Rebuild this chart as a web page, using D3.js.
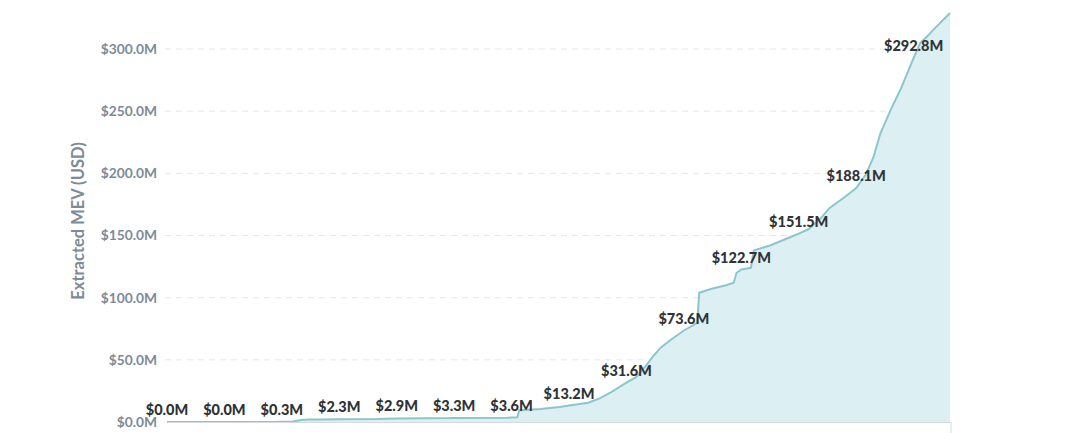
<!DOCTYPE html>
<html><head><meta charset="utf-8">
<script src="https://cdn.jsdelivr.net/npm/d3@7/dist/d3.min.js"></script>
<style>
html,body{margin:0;padding:0;background:#fff;}
svg{display:block;font-family:Lato,"Open Sans",sans-serif;}
</style></head>
<body><svg id="c" width="1087" height="433"></svg>
<script>
// days since start of series
const days = [0,30,55,60,66,70,74,80,90,110,120,148,150,178,180,183,184,195,205,210,220,226,232,240,245,250,254,258,263,270,275,277,278,284,292,296,297.5,300,305,306.5,315,326,330,335,341,346,354,360,365,369,372.6,378,383,386,390,393.5,397,400,409];
// cumulative extracted MEV, millions USD
const mev = [0,0,0.05,0.3,0.4,1.6,2.0,2.1,2.3,2.4,2.9,3.2,3.3,3.5,3.6,3.8,9.5,10.5,12.0,13.2,15.5,19,24,31.6,36,45,53,60,66,73.6,78,80,104,107,110,112,120,122.7,124,138,142,149,151.5,155,163,172,181,188.1,199,213,232,251,267,278,292.8,305,310,315,329];
// annotated points (day, value)
const labelDays = [0,30,60,90,120,150,180,210,240,270,300,330,360,390];
const labelVals = [0,0,0.3,2.3,2.9,3.3,3.6,13.2,31.6,73.6,122.7,151.5,188.1,292.8];
const yTicks = [0,50,100,150,200,250,300];
const xTickDays = [31,111,188,265,344];
const xTickLabels = ["Feb 1 2020","Apr 21 2020","Jul 7 2020","Sep 22 2020","Dec 10 2020"];

const svg = d3.select("#c");
const x = d3.scaleLinear().domain([0,409]).range([167,950]);
const y = d3.scaleLinear().domain([0,300]).range([422,49]);
const fmt = v => "$" + v.toFixed(1) + "M";
const data = days.map((d,i)=>({d, v: mev[i]}));

// grid
svg.append("g").selectAll("line").data(yTicks.filter(t=>t>0)).join("line")
  .attr("x1",165).attr("x2",950).attr("y1",d=>y(d)).attr("y2",d=>y(d))
  .attr("stroke","#e4e7ea").attr("stroke-width",1).attr("stroke-dasharray","6,5");

// area
svg.append("path").datum(data)
  .attr("d", d3.area().x(p=>x(p.d)).y0(y(0)).y1(p=>y(p.v)))
  .attr("fill","#dceff2");
svg.append("path").datum(data)
  .attr("d", d3.line().x(p=>x(p.d)).y(p=>y(p.v)))
  .attr("fill","none").attr("stroke","#8cc6cc").attr("stroke-width",2);

// x axis
const xa = svg.append("g").attr("transform",`translate(0,${y(0)})`)
  .call(d3.axisBottom(x).tickValues(xTickDays).tickFormat((d,i)=>xTickLabels[i]).tickSize(0).tickPadding(12));
xa.select(".domain").attr("stroke","#d6dadd");
xa.selectAll("text").attr("fill","#7d8b98").attr("font-size",14).attr("font-weight",700).attr("font-family","Lato");
svg.append("line").attr("x1",x(409)+1).attr("x2",x(409)+1).attr("y1",y(0)).attr("y2",y(0)+12).attr("stroke","#d6dadd");

// y axis
const ya = svg.append("g").attr("transform","translate(157,0)")
  .call(d3.axisLeft(y).tickValues(yTicks).tickFormat(fmt).tickSize(0).tickPadding(0));
ya.select(".domain").remove();
ya.selectAll("text").attr("fill","#7d8b98").attr("font-size",13.8).attr("font-weight",700).attr("font-family","Lato");

svg.append("text").attr("transform","translate(84,221) rotate(-90)")
  .attr("text-anchor","middle").attr("fill","#7d8b98").attr("font-size",16.5).attr("font-weight",700)
  .attr("font-family","Lato").text("Extracted MEV (USD)");

// value labels
svg.append("g").selectAll("text").data(labelDays).join("text")
  .attr("x",d=>x(d)).attr("y",(d,i)=>y(labelVals[i])-12).attr("dy","0.35em")
  .attr("text-anchor","middle").attr("fill","#2f3337").attr("font-size",14.5).attr("font-weight",900)
  .attr("font-family","Lato")
  .text((d,i)=>fmt(labelVals[i]));
</script></body></html>
